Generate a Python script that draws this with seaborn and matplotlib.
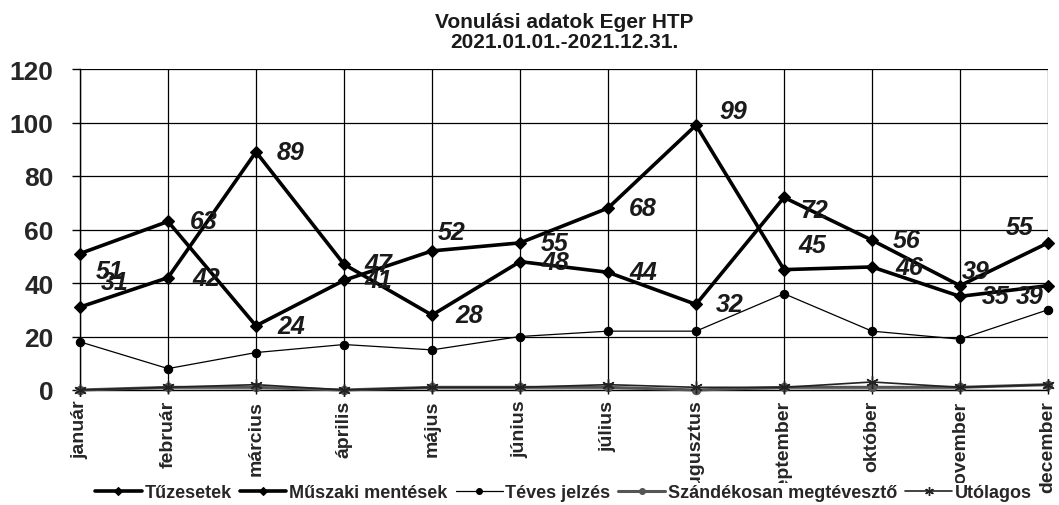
import seaborn as sns
import matplotlib.pyplot as plt
import pandas as pd
from matplotlib.lines import Line2D
from matplotlib.transforms import Bbox, TransformedBbox

honapok = ['január', 'február', 'március', 'április', 'május', 'június',
           'július', 'augusztus', 'szeptember', 'október', 'november', 'december']

tuzesetek = [51, 63, 24, 41, 52, 55, 68, 99, 45, 46, 35, 39]
muszaki = [31, 42, 89, 47, 28, 48, 44, 32, 72, 56, 39, 55]
teves = [18, 8, 14, 17, 15, 20, 22, 22, 36, 22, 19, 30]
szandekos = [0, 1, 1, 0, 1, 1, 1, 0, 1, 1, 1, 2]
utolagos = [0, 1, 2, 0, 1, 1, 2, 1, 1, 3, 1, 2]

df = pd.DataFrame({'honap': honapok, 'Tűzesetek': tuzesetek,
                   'Műszaki mentések': muszaki, 'Téves jelzés': teves,
                   'Szándékosan megtévesztő': szandekos, 'Utólagos': utolagos})

sns.set_theme(style='white')
plt.rcParams['font.family'] = ['Liberation Sans', 'DejaVu Sans']

fig = plt.figure(figsize=(10.59, 5.06), dpi=100)
ax = fig.add_axes([80 / 1059, 1 - 391 / 506, (1048 - 80) / 1059, (391 - 70) / 506])

# stílusok sorozatonként
styles = {
    'Tűzesetek': dict(color='black', lw=2.6, marker='D', ms=6.5, zorder=5),
    'Műszaki mentések': dict(color='black', lw=2.6, marker='D', ms=6.5, zorder=5),
    'Téves jelzés': dict(color='black', lw=0.9, marker='o', ms=6, zorder=4),
    'Szándékosan megtévesztő': dict(color='#555555', lw=2.2, marker='o', ms=6, zorder=3),
    'Utólagos': dict(color='#222222', lw=1.2, marker=(6, 2, 0), ms=9, mew=1.0, zorder=3),
}
for col, st in styles.items():
    sns.lineplot(data=df, x='honap', y=col, ax=ax, sort=False, legend=False,
                 color=st['color'], linewidth=st['lw'], marker=st['marker'],
                 markersize=st['ms'], markeredgewidth=st.get('mew', 0.8),
                 markeredgecolor=st['color'], zorder=st['zorder'], clip_on=False)

# címkék eltolása (pixel)
off_t = [(30, -17), (36, 0), (35, 0), (34, 0), (20, 19), (35, 0),
         (35, 0), (37, 14), (28, 25), (37, 0), (36, 0), (-18, -10)]
off_m = [(35, 25), (38, 0), (35, 0), (34, 0), (37, 0), (35, 0),
         (35, 0), (34, 0), (30, -13), (35, 0), (16, 15), (-28, 16)]
for vals, offs in [(tuzesetek, off_t), (muszaki, off_m)]:
    for i, v in enumerate(vals):
        ax.annotate(str(v), (i, v), xytext=offs[i], textcoords='offset pixels',
                    ha='center', va='center', fontsize=18, fontweight='bold',
                    fontstyle='italic', color='#1a1a1a', zorder=6)

ax.set_ylim(0, 120)
ax.set_xlim(0, 11)
ax.set_yticks(range(0, 121, 20))
ax.grid(True, color='black', linewidth=0.9)
ax.set_axisbelow(True)
for s in ['top', 'right']:
    ax.spines[s].set_visible(False)
for s in ['left', 'bottom']:
    ax.spines[s].set_color('black')
    ax.spines[s].set_linewidth(1.0)
ax.tick_params(axis='y', which='both', left=True, length=6, width=1, color='black',
               pad=13, labelsize=19)
ax.tick_params(axis='x', bottom=True, length=3, width=1, color='black',
               pad=4, labelsize=14)
ax.set_xlabel('')
ax.set_ylabel('')
for lab in ax.get_yticklabels():
    lab.set_fontweight('bold')
for lab in ax.get_xticklabels():
    lab.set_fontweight('bold')
    lab.set_rotation(90)
    lab.set_va('top')
    lab.set_ha('center')

# levágott feliratok, mint az eredetin
clip = Bbox.from_extents(0, 1 - 484 / 506, 1, 1)
for i in [7, 8, 10]:
    lab = ax.get_xticklabels()[i]
    lab.set_clip_on(True)
    lab.set_clip_box(TransformedBbox(clip, fig.transFigure))

ax.set_title('Vonulási adatok Eger HTP\n2021.01.01.-2021.12.31.', fontsize=15,
             fontweight='bold', pad=16, linespacing=1.05, color='#1a1a1a')

handles = [Line2D([], [], color=st['color'], lw=st['lw'], marker=st['marker'],
                  ms=st['ms'] * 0.7, mew=st.get('mew', 0.8), markeredgecolor=st['color'])
           for st in styles.values()]
leg = fig.legend(handles, list(styles.keys()), loc='center', ncol=5,
                 bbox_to_anchor=(0.532, 1 - 494 / 506), frameon=False,
                 handlelength=2.6, handletextpad=0.15, columnspacing=0.45,
                 prop={'weight': 'bold', 'size': 13})

fig.savefig('out.png', dpi=100)
